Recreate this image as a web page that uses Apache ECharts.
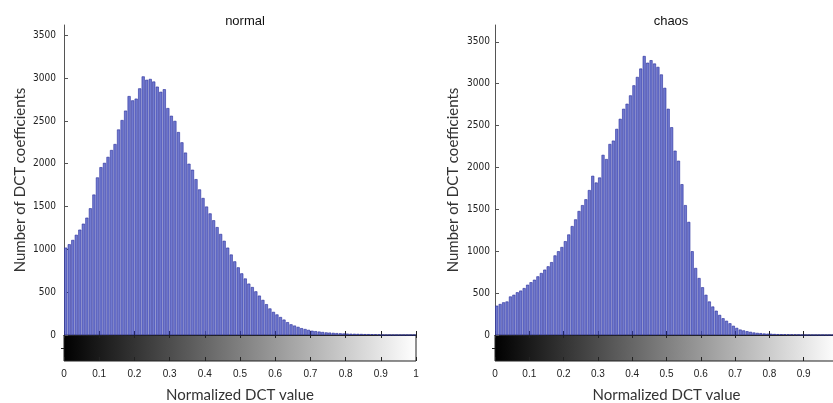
<!DOCTYPE html>
<html>
<head>
<meta charset="utf-8">
<script src="https://cdn.jsdelivr.net/npm/echarts@6/dist/echarts.min.js"></script>
<style>
  html, body { margin: 0; padding: 0; background: #fff; }
  #container { width: 833px; height: 403px; }
</style>
</head>
<body>
<div id="container"></div>
<script>
// histogram counts, bin width 0.01 on the normalized DCT value
var normalCounts = [1020,1060,1110,1170,1230,1300,1370,1480,1640,1840,
  1960,2010,2080,2160,2230,2400,2510,2620,2790,2740,
  2760,2880,3020,2980,2990,2960,2900,2840,2870,2650,
  2560,2500,2370,2250,2130,2000,1930,1820,1700,1600,
  1500,1420,1340,1260,1180,1100,1020,940,860,790,
  720,660,600,560,510,460,410,360,310,270,
  240,210,180,150,125,110,95,80,70,60,
  50,45,40,35,30,28,25,22,20,18,
  16,15,14,13,12,10,10,9,8,6,
  0,0,0,0,0,0,0,0,0,0];
var chaosCounts = [350,370,390,400,460,480,510,530,560,600,
  630,660,700,740,780,820,870,950,1000,1050,
  1120,1200,1300,1380,1480,1550,1620,1730,1900,1820,
  1880,2150,2100,2280,2320,2460,2580,2700,2760,2860,
  2980,3080,3180,3330,3250,3280,3240,3200,3110,2950,
  2700,2480,2200,2080,1800,1550,1350,1000,800,680,
  570,480,400,340,290,240,200,170,140,110,
  85,65,55,45,38,30,25,22,18,16,
  15,12,10,9,8,7,6,5,4,0,
  0,0,0,0,0,0,0,0,0,0];
var yTicks = [0,500,1000,1500,2000,2500,3000,3500];
var titles = ['normal', 'chaos'];
var xName = 'Normalized DCT value';
var yName = 'Number of DCT coefficients';

var bins = normalCounts.map(function (v, i) { return String(i); });

var labelFont = 'Liberation Sans';
var nameFont = 'Lato';

var gray = {
  type: 'linear', x: 0, y: 0, x2: 1, y2: 0,
  colorStops: [{offset: 0, color: '#000'}, {offset: 1, color: '#fff'}]
};

function panel(idx, left, width, ymax, nameGap, labelMargin) {
  var g = idx * 2;
  var grids = [
    {left: left, width: width, top: 25, bottom: 68, outerBoundsMode: 'none', containLabel: false},
    {left: left, width: width, top: 335, height: 26, show: true, outerBoundsMode: 'none', containLabel: false,
      backgroundColor: gray, borderColor: '#222', borderWidth: 1}
  ];
  var xs = [
    {type: 'category', gridIndex: g, data: bins, show: false, boundaryGap: true},
    {type: 'value', gridIndex: g, min: 0, max: 1, interval: 0.1, position: 'bottom',
      axisLine: {show: true, lineStyle: {color: '#222'}},
      axisTick: {inside: true, length: 4, lineStyle: {color: '#222'}},
      axisLabel: {show: false}, splitLine: {show: false}},
    {type: 'value', gridIndex: g + 1, min: 0, max: 1, interval: 0.1, position: 'bottom',
      axisLine: {show: false},
      axisTick: {inside: true, length: 4, lineStyle: {color: '#222'}},
      axisLabel: {fontSize: 10, color: '#222', margin: 8, fontFamily: labelFont},
      splitLine: {show: false},
      name: xName, nameLocation: 'middle', nameGap: 27,
      nameTextStyle: {fontSize: 15, color: '#333', fontFamily: nameFont}},
    {type: 'value', gridIndex: g + 1, min: 0, max: 1, interval: 0.1, position: 'top',
      axisLine: {show: false},
      axisTick: {inside: true, length: 3, lineStyle: {color: '#222'}},
      axisLabel: {show: false}, splitLine: {show: false}}
  ];
  var ys = [
    {type: 'value', gridIndex: g, min: 0, max: ymax, position: 'left',
      axisLine: {show: true, lineStyle: {color: '#555'}},
      axisTick: {inside: true, length: 4, customValues: yTicks, lineStyle: {color: '#555'}},
      axisLabel: {customValues: yTicks, fontSize: 10, color: '#222', margin: labelMargin,
        formatter: function (v) { return String(v); },
        fontFamily: 'Liberation Sans Narrow, DejaVu Sans Condensed, sans-serif'},
      splitLine: {show: false},
      name: yName, nameLocation: 'middle', nameGap: nameGap,
      nameTextStyle: {fontSize: 15, color: '#333', fontFamily: nameFont}},
    {type: 'value', gridIndex: g + 1, min: 0, max: 1, position: 'right',
      axisLine: {show: false},
      axisTick: {inside: true, length: 3, customValues: [0.5], lineStyle: {color: '#222'}},
      axisLabel: {show: false}, splitLine: {show: false}}
  ];
  return {grids: grids, xs: xs, ys: ys};
}

var p1 = panel(0, 64, 352, 3620, 36, 8);
var p2 = panel(1, 495, 343, 3700, 34, 5);

var barStyle = {color: '#7079cf', borderColor: '#262c9c', borderWidth: 0.6};

var myChart = echarts.init(document.getElementById('container'), null, {renderer: 'canvas'});
myChart.setOption({
  animation: false,
  backgroundColor: '#fff',
  title: [
    {text: titles[0], left: 240, top: 10, textAlign: 'center',
      textStyle: {fontSize: 13, fontWeight: 'normal', color: '#111', fontFamily: labelFont}},
    {text: titles[1], left: 666, top: 10, textAlign: 'center',
      textStyle: {fontSize: 13, fontWeight: 'normal', color: '#111', fontFamily: labelFont}}
  ],
  grid: p1.grids.concat(p2.grids),
  xAxis: p1.xs.concat(p2.xs),
  yAxis: p1.ys.concat(p2.ys),
  series: [
    {type: 'bar', xAxisIndex: 0, yAxisIndex: 0, data: normalCounts,
      barCategoryGap: '12%', itemStyle: barStyle},
    {type: 'bar', xAxisIndex: 4, yAxisIndex: 2, data: chaosCounts,
      barCategoryGap: '12%', itemStyle: barStyle}
  ]
});
</script>
</body>
</html>
